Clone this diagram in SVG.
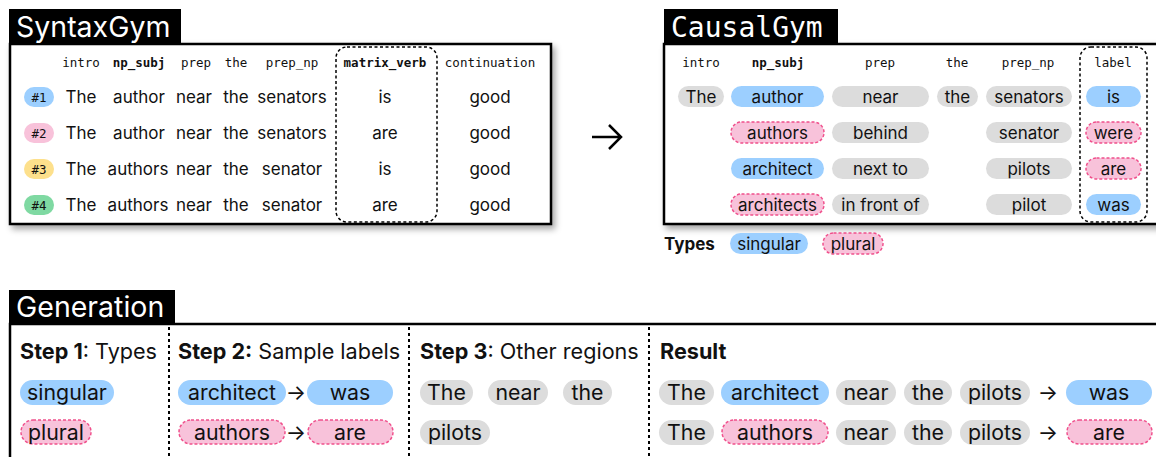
<svg xmlns="http://www.w3.org/2000/svg" width="1156" height="457" viewBox="0 0 1156 457">
  <defs>
    <filter id="shadow" x="-5%" y="-10%" width="115%" height="130%">
      <feDropShadow dx="3" dy="4" stdDeviation="3" flood-color="#000" flood-opacity="0.35"/>
    </filter>
  </defs>
  <style>
    .panel { fill: #fff; stroke: #000; stroke-width: 2.5; }
    .title-bg { fill: #000; }
    .title { fill: #fff; font-family: Inter, "Liberation Sans", sans-serif; font-size: 28.5px; }
    .title-mono { fill: #fff; font-family: "DejaVu Sans Mono", "Liberation Mono", monospace; font-size: 28px; }
    .hdr { font-family: "DejaVu Sans Mono", "Liberation Mono", monospace; font-size: 12.5px; fill: #111; text-anchor: middle; }
    .hdr-b { font-weight: bold; }
    .word { font-family: Inter, "Liberation Sans", sans-serif; font-size: 17px; fill: #111; text-anchor: middle; }
    .gword { font-family: Inter, "Liberation Sans", sans-serif; font-size: 21.3px; fill: #111; text-anchor: middle; }
    .step { font-family: Inter, "Liberation Sans", sans-serif; font-size: 21.6px; fill: #111; }
    .badge-t { font-family: "DejaVu Sans Mono", "Liberation Mono", monospace; font-size: 12.5px; fill: #111; text-anchor: middle; }
    .sg { fill: #9ccfff; }
    .pl { fill: #f8c2da; stroke: #f0508c; stroke-width: 1.5; stroke-dasharray: 3 2; }
    .gr { fill: #dcdcdc; }
    .frame { fill: none; stroke: #000; stroke-width: 1.5; stroke-dasharray: 3 2.5; }
    .div { stroke: #000; stroke-width: 2; stroke-dasharray: 3 3; }
  </style>

  <!-- SyntaxGym panel -->
  <g id="syntaxgym">
    <rect class="panel" x="10" y="44" width="541" height="180" filter="url(#shadow)"/>
    <rect class="title-bg" x="9" y="9" width="172" height="36"/>
    <text class="title" x="16" y="37">SyntaxGym</text>
    <rect class="frame" x="336" y="47" width="101" height="175" rx="11"/>
    <g>
      <text class="hdr" x="81" y="67">intro</text>
      <text class="hdr hdr-b" x="139" y="67">np_subj</text>
      <text class="hdr" x="196" y="67">prep</text>
      <text class="hdr" x="236" y="67">the</text>
      <text class="hdr" x="292" y="67">prep_np</text>
      <text class="hdr hdr-b" x="385" y="67">matrix_verb</text>
      <text class="hdr" x="490" y="67">continuation</text>
    </g>
    <g>
      <rect x="24" y="87" width="30" height="20" rx="10" fill="#9ccfff"/>
      <text class="badge-t" x="39" y="101.5">#1</text>
      <rect x="24" y="123" width="30" height="20" rx="10" fill="#f8c2da"/>
      <text class="badge-t" x="39" y="137.5">#2</text>
      <rect x="24" y="159" width="30" height="20" rx="10" fill="#fde08c"/>
      <text class="badge-t" x="39" y="173.5">#3</text>
      <rect x="24" y="195" width="30" height="20" rx="10" fill="#7fd9a2"/>
      <text class="badge-t" x="39" y="209.5">#4</text>
    </g>
    <g>
      <text class="word" x="81" y="103">The</text>
      <text class="word" x="139" y="103">author</text>
      <text class="word" x="194" y="103">near</text>
      <text class="word" x="236" y="103">the</text>
      <text class="word" x="292" y="103">senators</text>
      <text class="word" x="385" y="103">is</text>
      <text class="word" x="490" y="103">good</text>

      <text class="word" x="81" y="139">The</text>
      <text class="word" x="139" y="139">author</text>
      <text class="word" x="194" y="139">near</text>
      <text class="word" x="236" y="139">the</text>
      <text class="word" x="292" y="139">senators</text>
      <text class="word" x="385" y="139">are</text>
      <text class="word" x="490" y="139">good</text>

      <text class="word" x="81" y="175">The</text>
      <text class="word" x="138" y="175">authors</text>
      <text class="word" x="194" y="175">near</text>
      <text class="word" x="236" y="175">the</text>
      <text class="word" x="292" y="175">senator</text>
      <text class="word" x="385" y="175">is</text>
      <text class="word" x="490" y="175">good</text>

      <text class="word" x="81" y="211">The</text>
      <text class="word" x="138" y="211">authors</text>
      <text class="word" x="194" y="211">near</text>
      <text class="word" x="236" y="211">the</text>
      <text class="word" x="292" y="211">senator</text>
      <text class="word" x="385" y="211">are</text>
      <text class="word" x="490" y="211">good</text>
    </g>
  </g>

  <!-- transformation arrow -->
  <g id="connectors">
    <path d="M592 137 H621 M609 125 L621 137 L609 149" fill="none" stroke="#000" stroke-width="2.5"/>
  </g>

  <!-- CausalGym panel -->
  <g id="causalgym">
    <rect class="panel" x="664" y="44" width="520" height="180" filter="url(#shadow)"/>
    <rect class="title-bg" x="664" y="9" width="174" height="36"/>
    <text class="title-mono" x="671" y="37">CausalGym</text>
    <rect class="frame" x="1080" y="47" width="67" height="175" rx="11"/>
    <g>
      <text class="hdr" x="701" y="67">intro</text>
      <text class="hdr hdr-b" x="778" y="67">np_subj</text>
      <text class="hdr" x="880" y="67">prep</text>
      <text class="hdr" x="957" y="67">the</text>
      <text class="hdr" x="1028" y="67">prep_np</text>
      <text class="hdr" x="1113" y="67">label</text>
    </g>
    <!-- row 1 -->
    <rect class="gr" x="678" y="86" width="46" height="21" rx="10.5"/>
    <text class="word" x="701" y="103">The</text>
    <rect class="sg" x="731" y="86" width="93" height="21" rx="10.5"/>
    <text class="word" x="777.5" y="103">author</text>
    <rect class="gr" x="832" y="86" width="97" height="21" rx="10.5"/>
    <text class="word" x="880.5" y="103">near</text>
    <rect class="gr" x="937" y="86" width="41" height="21" rx="10.5"/>
    <text class="word" x="957.5" y="103">the</text>
    <rect class="gr" x="986" y="86" width="86" height="21" rx="10.5"/>
    <text class="word" x="1029" y="103">senators</text>
    <rect class="sg" x="1086" y="86" width="55" height="21" rx="10.5"/>
    <text class="word" x="1113.5" y="103">is</text>
    <!-- row 2 -->
    <rect class="pl" x="731" y="122" width="93" height="21" rx="10.5"/>
    <text class="word" x="777.5" y="139">authors</text>
    <rect class="gr" x="832" y="122" width="97" height="21" rx="10.5"/>
    <text class="word" x="880.5" y="139">behind</text>
    <rect class="gr" x="986" y="122" width="86" height="21" rx="10.5"/>
    <text class="word" x="1029" y="139">senator</text>
    <rect class="pl" x="1086" y="122" width="55" height="21" rx="10.5"/>
    <text class="word" x="1113.5" y="139">were</text>
    <!-- row 3 -->
    <rect class="sg" x="731" y="158" width="93" height="21" rx="10.5"/>
    <text class="word" x="777.5" y="175">architect</text>
    <rect class="gr" x="832" y="158" width="97" height="21" rx="10.5"/>
    <text class="word" x="880.5" y="175">next to</text>
    <rect class="gr" x="986" y="158" width="86" height="21" rx="10.5"/>
    <text class="word" x="1029" y="175">pilots</text>
    <rect class="pl" x="1086" y="158" width="55" height="21" rx="10.5"/>
    <text class="word" x="1113.5" y="175">are</text>
    <!-- row 4 -->
    <rect class="pl" x="731" y="194" width="93" height="21" rx="10.5"/>
    <text class="word" x="777.5" y="211">architects</text>
    <rect class="gr" x="832" y="194" width="97" height="21" rx="10.5"/>
    <text class="word" x="880.5" y="211">in front of</text>
    <rect class="gr" x="986" y="194" width="86" height="21" rx="10.5"/>
    <text class="word" x="1029" y="211">pilot</text>
    <rect class="sg" x="1086" y="194" width="55" height="21" rx="10.5"/>
    <text class="word" x="1113.5" y="211">was</text>
  </g>

  <!-- type legend -->
  <g id="types">
    <text class="word" x="664" y="250" style="text-anchor:start;font-weight:bold">Types</text>
    <rect class="sg" x="730" y="233" width="78" height="21" rx="10.5"/>
    <text class="word" x="769" y="250">singular</text>
    <rect class="pl" x="823" y="233" width="60" height="21" rx="10.5"/>
    <text class="word" x="853" y="250">plural</text>
  </g>

  <!-- Generation panel -->
  <g id="generation">
    <rect class="panel" x="10" y="324" width="1170" height="160"/>
    <rect class="title-bg" x="9" y="290" width="166" height="35"/>
    <text class="title" x="16" y="317">Generation</text>
    <line class="div" x1="169" y1="327" x2="169" y2="457"/>
    <line class="div" x1="409" y1="327" x2="409" y2="457"/>
    <line class="div" x1="649" y1="327" x2="649" y2="457"/>
  </g>

  <g id="step1">
    <text class="step" x="20" y="359"><tspan font-weight="bold">Step 1</tspan>: Types</text>
    <rect class="sg" x="20" y="380" width="94" height="25" rx="12.5"/>
    <text class="gword" x="67" y="399.5">singular</text>
    <rect class="pl" x="21" y="420" width="70" height="24" rx="12"/>
    <text class="gword" x="56" y="439.5">plural</text>
  </g>

  <g id="step2">
    <text class="step" x="178" y="359"><tspan font-weight="bold">Step 2:</tspan> Sample labels</text>
    <rect class="sg" x="178" y="380" width="108" height="25" rx="12.5"/>
    <text class="gword" x="232" y="399.5">architect</text>
    <text class="gword" x="296" y="399.5">→</text>
    <rect class="sg" x="307" y="380" width="86" height="25" rx="12.5"/>
    <text class="gword" x="350" y="399.5">was</text>
    <rect class="pl" x="179" y="420" width="106" height="24" rx="12"/>
    <text class="gword" x="232" y="439.5">authors</text>
    <text class="gword" x="296" y="439.5">→</text>
    <rect class="pl" x="308" y="420" width="85" height="24" rx="12"/>
    <text class="gword" x="350" y="439.5">are</text>
  </g>

  <g id="step3">
    <text class="step" x="420" y="359"><tspan font-weight="bold">Step 3</tspan>: Other regions</text>
    <rect class="gr" x="420" y="380" width="53" height="25" rx="12.5"/>
    <text class="gword" x="446.5" y="399.5">The</text>
    <rect class="gr" x="488" y="380" width="60" height="25" rx="12.5"/>
    <text class="gword" x="518" y="399.5">near</text>
    <rect class="gr" x="563" y="380" width="49" height="25" rx="12.5"/>
    <text class="gword" x="587.5" y="399.5">the</text>
    <rect class="gr" x="420" y="420" width="70" height="25" rx="12.5"/>
    <text class="gword" x="455" y="439.5">pilots</text>
  </g>

  <g id="result">
    <text class="step" x="660" y="359" font-weight="bold">Result</text>
    <rect class="gr" x="659" y="380" width="55" height="25" rx="12.5"/>
    <text class="gword" x="686.5" y="399.5">The</text>
    <rect class="sg" x="721" y="380" width="108" height="25" rx="12.5"/>
    <text class="gword" x="775" y="399.5">architect</text>
    <rect class="gr" x="836" y="380" width="60" height="25" rx="12.5"/>
    <text class="gword" x="866" y="399.5">near</text>
    <rect class="gr" x="904" y="380" width="48" height="25" rx="12.5"/>
    <text class="gword" x="928" y="399.5">the</text>
    <rect class="gr" x="960" y="380" width="70" height="25" rx="12.5"/>
    <text class="gword" x="995" y="399.5">pilots</text>
    <text class="gword" x="1048" y="399.5">→</text>
    <rect class="sg" x="1066" y="380" width="86" height="25" rx="12.5"/>
    <text class="gword" x="1109" y="399.5">was</text>

    <rect class="gr" x="659" y="420" width="55" height="25" rx="12.5"/>
    <text class="gword" x="686.5" y="439.5">The</text>
    <rect class="pl" x="722" y="420" width="106" height="24" rx="12"/>
    <text class="gword" x="775" y="439.5">authors</text>
    <rect class="gr" x="836" y="420" width="60" height="25" rx="12.5"/>
    <text class="gword" x="866" y="439.5">near</text>
    <rect class="gr" x="904" y="420" width="48" height="25" rx="12.5"/>
    <text class="gword" x="928" y="439.5">the</text>
    <rect class="gr" x="960" y="420" width="70" height="25" rx="12.5"/>
    <text class="gword" x="995" y="439.5">pilots</text>
    <text class="gword" x="1048" y="439.5">→</text>
    <rect class="pl" x="1067" y="420" width="85" height="24" rx="12"/>
    <text class="gword" x="1109" y="439.5">are</text>
  </g>
</svg>
